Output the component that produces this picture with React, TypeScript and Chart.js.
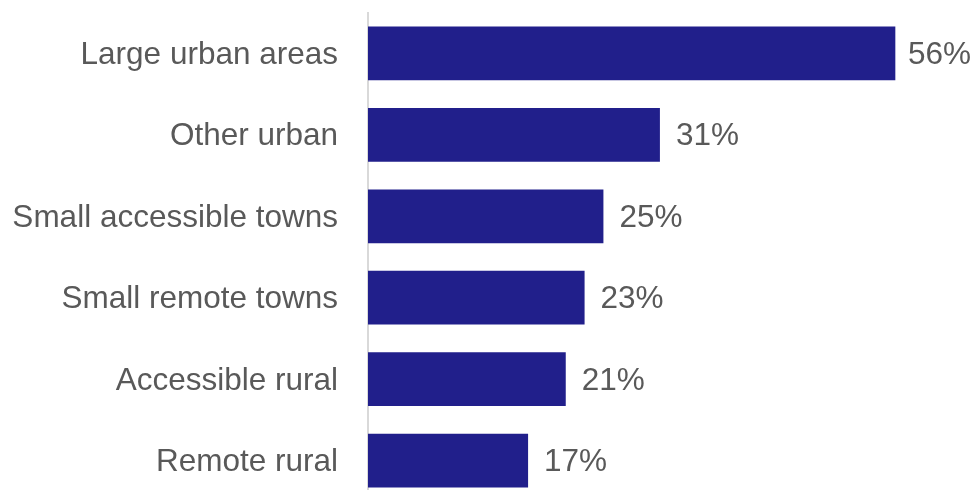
import React, { useEffect, useRef } from "react";
import { Chart, registerables } from "chart.js";

Chart.register(...registerables);

const categories = [
  "Large urban areas",
  "Other urban",
  "Small accessible towns",
  "Small remote towns",
  "Accessible rural",
  "Remote rural",
];
const values = [56, 31, 25, 23, 21, 17];

const FONT = "Arial, 'Liberation Sans', sans-serif";
const FONT_SIZE = 31.5;
const TEXT_COLOR = "#595959";
const BAR_COLOR = "#211f8b";

const valueLabels = {
  id: "valueLabels",
  afterDatasetsDraw(chart: any) {
    const ctx = chart.ctx;
    const meta = chart.getDatasetMeta(0);
    ctx.save();
    ctx.font = `${FONT_SIZE}px ${FONT}`;
    ctx.fillStyle = TEXT_COLOR;
    ctx.textAlign = "left";
    ctx.textBaseline = "middle";
    meta.data.forEach((bar: any, i: number) => {
      const txt = `${values[i]}%`;
      const w = ctx.measureText(txt).width;
      const x = Math.min(bar.x + 16, chart.width - 3 - w);
      ctx.fillText(txt, x, bar.y + 2);
    });
    ctx.restore();
  },
};

export default function App() {
  const ref = useRef<HTMLCanvasElement>(null);
  useEffect(() => {
    if (!ref.current) return;
    const chart = new Chart(ref.current, {
      type: "bar",
      data: {
        labels: categories,
        datasets: [
          {
            data: values,
            backgroundColor: BAR_COLOR,
            categoryPercentage: 1,
            barPercentage: 0.66,
          },
        ],
      },
      options: {
        indexAxis: "y",
        responsive: false,
        animation: false,
        layout: { padding: { top: 0, bottom: 0, right: 41, left: 0 } },
        plugins: { legend: { display: false }, tooltip: { enabled: false } },
        scales: {
          x: {
            min: 0,
            max: 60,
            display: false,
            grid: { display: false },
          },
          y: {
            afterFit(scale: any) {
              scale.width = 368;
            },
            grid: {
              display: true,
              drawOnChartArea: false,
              drawTicks: true,
              tickLength: 30,
              color: "rgba(0,0,0,0)",
            },
            border: { display: true, color: "#d9d9d9", width: 2 },
            ticks: {
              padding: 0,
              labelOffset: 2,
              color: TEXT_COLOR,
              font: { family: FONT, size: FONT_SIZE, lineHeight: 0.8 },
            },
          },
        },
      },
      plugins: [valueLabels],
    });
    return () => chart.destroy();
  }, []);
  return (
    <div style={{ position: "absolute", top: 0, left: 0 }}>
      <canvas ref={ref} width={974} height={514} style={{ display: "block" }} />
    </div>
  );
}
